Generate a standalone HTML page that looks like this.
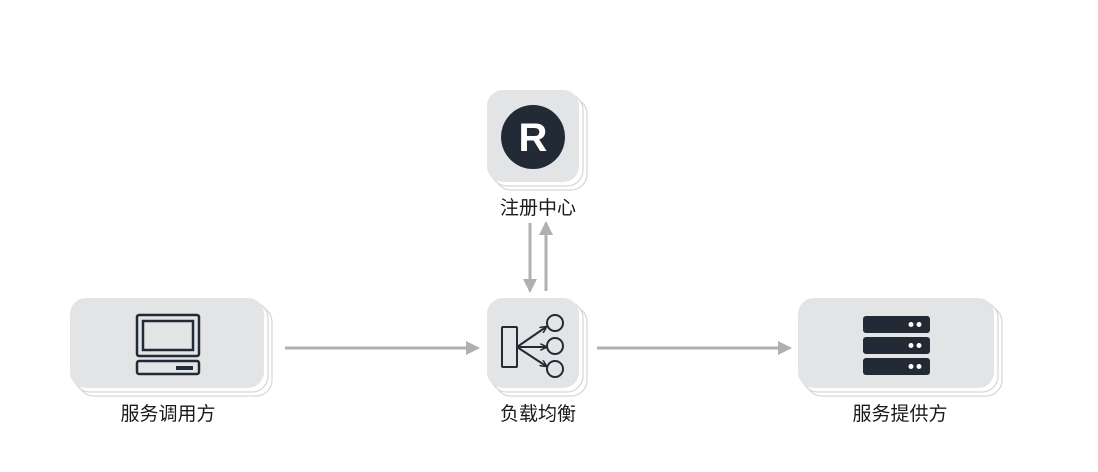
<!DOCTYPE html>
<html><head><meta charset="utf-8"><style>
body{margin:0;width:1098px;height:472px;background:#fff;overflow:hidden;position:relative;font-family:"Liberation Sans","Noto Sans CJK SC",sans-serif}
.lbl{position:absolute;font-size:19px;color:#1a1a1a;text-align:center;width:200px;line-height:20px}
</style></head><body>
<svg width="1098" height="472" style="position:absolute;left:0;top:0">
<defs>
<marker id="a" markerWidth="7" markerHeight="7" refX="6" refY="3.5" orient="auto" markerUnits="userSpaceOnUse"><path d="M0,0 L7,3.5 L0,7" fill="none" stroke="#222a35" stroke-width="1.5"/></marker>
<marker id="b" markerWidth="14" markerHeight="14" refX="12" refY="7" orient="auto" markerUnits="userSpaceOnUse"><path d="M0,0 L14,7 L0,14 z" fill="#b0b0b0"/></marker>
</defs>
<g stroke="#d6d6d6" stroke-width="1.2">
<rect x="78" y="306" width="194" height="90" rx="16" fill="#fff"/>
<rect x="74" y="302" width="194" height="90" rx="16" fill="#fff"/>
<rect x="70" y="298" width="194" height="90" rx="16" fill="#e3e4e6" stroke="none"/>
<rect x="495" y="98" width="92" height="92" rx="16" fill="#fff"/>
<rect x="491" y="94" width="92" height="92" rx="16" fill="#fff"/>
<rect x="487" y="90" width="92" height="92" rx="16" fill="#e3e4e6" stroke="none"/>
<rect x="495" y="306" width="92" height="90" rx="16" fill="#fff"/>
<rect x="491" y="302" width="92" height="90" rx="16" fill="#fff"/>
<rect x="487" y="298" width="92" height="90" rx="16" fill="#e3e4e6" stroke="none"/>
<rect x="806" y="306" width="196" height="90" rx="16" fill="#fff"/>
<rect x="802" y="302" width="196" height="90" rx="16" fill="#fff"/>
<rect x="798" y="298" width="196" height="90" rx="16" fill="#e3e4e6" stroke="none"/>
</g>
<g stroke="#b0b0b0" stroke-width="3" fill="none">
<line x1="285" y1="348" x2="478" y2="348" marker-end="url(#b)"/>
<line x1="597" y1="348" x2="790" y2="348" marker-end="url(#b)"/>
<line x1="530" y1="223" x2="530" y2="291" marker-end="url(#b)"/>
<line x1="546" y1="291" x2="546" y2="223" marker-end="url(#b)"/>
</g>
<circle cx="533" cy="137" r="32" fill="#222a35"/>
<text x="533" y="151" text-anchor="middle" font-family="Liberation Sans" font-weight="bold" font-size="40" fill="#fff">R</text>
<g stroke="#222a35" stroke-width="2.5" fill="none">
<rect x="137" y="315" width="62" height="41" rx="2"/>
<rect x="143" y="321" width="50" height="29"/>
<rect x="137" y="361" width="62" height="13" rx="2"/>
</g>
<rect x="176" y="366" width="17" height="4" fill="#222a35"/>
<g stroke="#222a35" stroke-width="2" fill="none">
<rect x="502" y="327" width="15" height="40" rx="1"/>
<circle cx="555" cy="323" r="8"/><circle cx="555" cy="346" r="8"/><circle cx="555" cy="369" r="8"/>
<line x1="517" y1="347" x2="546" y2="327" marker-end="url(#a)"/>
<line x1="517" y1="347" x2="546" y2="347" marker-end="url(#a)"/>
<line x1="517" y1="347" x2="546" y2="366" marker-end="url(#a)"/>
</g>
<g fill="#222a35">
<rect x="863" y="316" width="67" height="17" rx="3"/>
<rect x="863" y="337" width="67" height="17" rx="3"/>
<rect x="863" y="358" width="67" height="17" rx="3"/>
</g>
<g fill="#fff">
<circle cx="911" cy="324.5" r="2.5"/><circle cx="919" cy="324.5" r="2.5"/>
<circle cx="911" cy="345.5" r="2.5"/><circle cx="919" cy="345.5" r="2.5"/>
<circle cx="911" cy="366.5" r="2.5"/><circle cx="919" cy="366.5" r="2.5"/>
</g>
</svg>
<div class="lbl" style="left:68px;top:405px">服务调用方</div>
<div class="lbl" style="left:438px;top:405px">负载均衡</div>
<div class="lbl" style="left:438px;top:199px">注册中心</div>
<div class="lbl" style="left:800px;top:405px">服务提供方</div>
</body></html>
